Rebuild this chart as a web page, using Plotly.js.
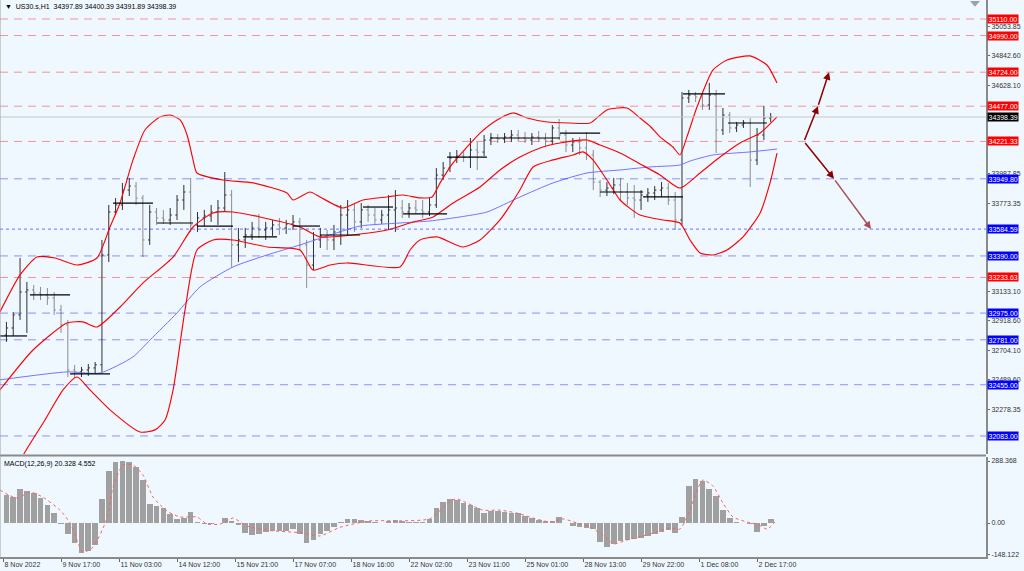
<!DOCTYPE html>
<html><head><meta charset="utf-8">
<script src="https://cdn.plot.ly/plotly-3.0.1.min.js"></script>
<style>html,body{margin:0;padding:0;background:#F0F8FF;}#chart{width:1024px;height:571px;}</style>
</head><body><div id="chart"></div>
<script>
// ---- 4-hour candles (US30.s), oldest first ----
const barOpen = [32816,32867,32962,33128,33143,33121,33107,33085,32998,32889,
 32562,32548,32562,32577,32599,33397,33709,33760,33868,33897,
 33810,33506,33709,33666,33651,33687,33796,33854,33615,33666,
 33680,33709,33738,33832,33470,33506,33542,33593,33578,33593,
 33615,33593,33622,33637,33470,33324,33506,33535,33506,33564,
 33687,33724,33637,33724,33687,33651,33687,33724,33738,33709,
 33738,33724,33709,33760,33977,34028,34101,34115,34108,34159,
 34144,34231,34246,34239,34253,34268,34246,34231,34253,34239,
 34224,34319,34268,34195,34217,34173,34123,33926,33868,33883,
 33905,33854,33810,33796,33832,33847,33868,33883,33796,33651,
 34537,34558,34544,34486,34558,34304,34413,34319,34340,34355,
 34086,34268,34391];
const barHigh = [32911,32983,33375,33201,33179,33165,33157,33128,33034,32925,
 32599,32584,32606,32620,33506,33760,33810,33919,33956,33926,
 33832,33760,33738,33724,33738,33832,33905,33956,33709,33724,
 33760,33796,33999,33868,33593,33593,33637,33695,33637,33651,
 33666,33651,33687,33666,33506,33564,33593,33578,33615,33760,
 33796,33774,33774,33760,33738,33724,33832,33868,33796,33774,
 33796,33796,33810,34028,34072,34144,34159,34144,34246,34217,
 34268,34282,34275,34282,34304,34304,34289,34282,34297,34282,
 34340,34384,34304,34246,34253,34289,34159,33941,33926,33956,
 33956,33919,33905,33868,33883,33897,33926,33919,33854,34580,
 34595,34580,34573,34646,34595,34464,34435,34362,34377,34391,
 34319,34479,34428];
const barLow = [32766,32809,32925,32831,33070,33070,33034,32962,32831,32511,
 32504,32511,32519,32533,32548,33346,33687,33724,33825,33760,
 33382,33470,33615,33622,33615,33651,33724,33564,33564,33607,
 33637,33615,33709,33310,33346,33448,33506,33520,33506,33535,
 33542,33549,33578,33433,33157,33288,33448,33433,33433,33470,
 33542,33564,33593,33637,33615,33622,33578,33564,33666,33666,
 33695,33666,33680,33738,33941,33999,34064,34072,34028,34014,
 34115,34195,34210,34210,34217,34224,34210,34195,34217,34188,
 34195,34231,34144,34144,34123,34086,33868,33818,33825,33839,
 33796,33760,33666,33724,33782,33796,33818,33760,33578,33615,
 34500,34507,34450,34450,34137,34268,34282,34289,34319,33890,
 34050,34231,34362];
const barClose = [32867,32962,33128,33143,33121,33107,33085,32998,32889,32562,
 32548,32562,32577,32599,33397,33709,33760,33868,33897,33810,
 33506,33709,33666,33651,33687,33796,33854,33615,33666,33680,
 33709,33738,33832,33470,33506,33542,33593,33578,33593,33615,
 33593,33622,33637,33470,33324,33506,33535,33506,33564,33687,
 33724,33637,33724,33687,33651,33687,33724,33738,33709,33738,
 33724,33709,33760,33977,34028,34101,34115,34108,34159,34144,
 34231,34246,34239,34253,34268,34246,34231,34253,34239,34224,
 34319,34268,34195,34217,34173,34123,33926,33868,33883,33905,
 33854,33810,33796,33832,33847,33868,33883,33796,33651,34537,
 34558,34544,34486,34558,34304,34413,34319,34340,34355,34086,
 34268,34391,34398.39];

// ---- Bollinger bands / moving average (hour index, price) ----
const upperH = [-1.8,10.0,19.9,30.5,43.4,55.1,62.7,68.6,76.2,83.2,92.0,97.9,103.8,107.9,111.4,113.7,129.0,146.6,166.5,170.0,180.0,185.8,199.3,211.0,225.1,234.5,244.5,251.5,256.2,263.8,272.0,279.6,289.6,299.0,307.2,318.9,332.4,344.1,354.0,365.8,373.4,379.2,385.1,392.7,396.8,400.9,406.8,416.2,424.4,437.9,447.8,453.7];
const upperP = [32983,33252,33382,33375,33324,33375,33600,33774,34087,34304,34399,34413,34377,34268,34087,33992,33941,33920,33847,33796,33854,33818,33738,33796,33818,33832,33811,33818,33920,34065,34181,34282,34377,34428,34391,34362,34355,34355,34450,34464,34391,34333,34254,34181,34123,34254,34471,34740,34812,34842,34776,34646];
const midH = [-1.8,17.6,37.5,46.9,55.1,68.6,82.1,99.7,111.4,123.1,134.8,150.6,174.1,185.8,209.3,225.1,240.4,252.1,263.8,279.6,291.3,303.0,314.8,326.5,342.3,350.0,361.7,373.4,385.1,396.8,408.6,420.3,432.0,443.8,453.7];
const midP = [32417,32707,32903,32911,32874,33019,33194,33382,33600,33702,33709,33673,33600,33528,33549,33578,33636,33673,33774,33891,34014,34108,34174,34210,34232,34195,34137,34058,33978,33883,33992,34108,34210,34282,34399];
const lowerH = [7.0,12.9,24.6,35.2,43.4,51.0,62.7,80.3,89.1,95.0,99.7,106.7,113.7,123.1,134.8,154.8,174.1,181.7,191.7,201.6,232.7,238.6,244.4,254.4,269.6,279.6,291.3,303.0,310.7,322.4,334.1,340.0,345.8,354.0,361.7,373.4,386.9,396.8,402.7,408.6,416.2,424.4,433.8,443.8,449.6,453.7];
const lowerP = [31836,31967,32199,32417,32511,32417,32272,32112,32127,32199,32417,32998,33433,33506,33506,33455,33433,33288,33324,33339,33310,33433,33506,33528,33455,33506,33651,33869,34036,34087,34123,34145,34087,33941,33796,33687,33651,33629,33506,33412,33397,33433,33528,33702,33920,34137];
const maH = [-1.8,37.5,56.9,76.2,86.2,102.0,115.5,134.8,154.8,174.1,191.7,209.3,232.7,250.3,267.9,283.7,303.0,322.4,342.3,361.7,379.2,396.8,402.7,416.2,437.9,453.7];
const maP = [32490,32548,32540,32657,32780,32976,33165,33310,33397,33470,33542,33607,33629,33644,33673,33709,33818,33920,33992,34014,34036,34050,34079,34123,34145,34166];

// ---- short black horizontal levels ----
const segStart = [-1.8,15.8,39.3,64.5,90.3,113.7,140.7,170.0,185.8,211.0,234.5,260.3,285.5,326.5,350.0,375.2,398.6,425.0];
const segEnd   = [14.1,39.3,62.7,87.9,111.4,134.8,160.6,185.8,209.3,228.6,260.3,283.7,326.5,350.0,375.2,398.6,423.2,447.8];
const segPrice = [32809,33107,32533,33774,33629,33607,33528,33607,33542,33745,33695,34108,34246,34282,33854,33818,34566,34355];

// ---- level lines ----
const redLevels  = [35110.00,34990.00,34724.00,34477.00,34221.33,33233.63];
const blueLevels = [33949.80,33390.00,32975.00,32781.00,32455.00,32083.00];
const dottedLevel = 33584.59;
const lastPrice = 34398.39;

// ---- projection arrows ----
const arrFromH = [469.5,477.7,469.5,487.1];
const arrFromP = [34221.33,34477.00,34221.33,33949.80];
const arrToH   = [477.7,484.2,487.1,508.8];
const arrToP   = [34477.00,34724.00,33949.80,33584.59];
const arrColor = ['#8b0000','#8b0000','#8b0000','#a85050'];

// ---- MACD(12,26,9) ----
const macdHist = [130,120,160,150,140,118,85,45,-5,-50,
 -95,-140,-130,-100,110,240,284,288,285,260,
 200,90,78,70,40,18,22,50,6,-3,
 -4,-2,25,8,-10,-45,-55,-50,-40,-35,
 -38,-35,-30,-50,-95,-80,-50,-35,-20,5,
 20,18,15,10,5,2,8,12,10,5,
 3,5,20,70,100,112,108,95,85,70,
 48,58,55,50,48,45,32,22,14,10,
 8,26,0,-14,-20,-25,-30,-90,-112,-98,
 -82,-77,-72,-68,-62,-52,-40,-32,-45,30,
 170,205,195,160,125,62,25,3,0,-5,
 -40,-15,20.328];
const sigH = [-1.8,8.2,15.8,23.4,33.4,39.3,46.9,52.8,61.0,64.5,70.3,76.2,82.1,87.9,96.1,103.8,113.7,119.6,127.2,134.8,143.0,156.5,174.1,185.8,197.5,215.1,232.7,250.3,262.0,266.1,281.4,291.3,301.3,310.7,320.6,328.3,336.5,344.1,354.0,357.6,365.8,379.2,391.0,396.8,402.7,406.8,410.3,416.2,422.0,427.9,436.1,442.0,447.9,452.5];
const sigV = [153,116,144,120,60,0,-135,-112,23,167,270,270,223,121,56,28,28,-5,-5,23,-14,-35,-45,-60,-20,10,10,20,102,112,60,60,46,23,5,19,0,-19,-70,-98,-79,-51,-23,-28,60,153,200,172,93,28,5,-5,-28,4.552];

// ---- axis ticks ----
const xTickHours = [0,34,68,102,136,170,204,238,272,306,340,374,408,442];
const xTickLabels = ['8 Nov 2022','9 Nov 17:00','11 Nov 03:00','14 Nov 12:00','15 Nov 21:00','17 Nov 07:00','18 Nov 16:00','22 Nov 02:00','23 Nov 11:00','25 Nov 01:00','28 Nov 13:00','29 Nov 22:00','1 Dec 08:00','2 Dec 17:00'];
const priceTicks = [35053.85,34842.60,34628.10,33987.85,33773.35,33133.10,32918.60,32704.10,32489.60,32278.35];
const macdTicks = [288.368,0,-148.122];
const macdTickText = ['288.368','0.00','-148.122'];

const FONT = '"Liberation Sans", Arial, sans-serif';
const barX = barClose.map((_, i) => 4 * i + 2);

const segX = [], segY = [];
segStart.forEach((s, i) => { segX.push(s, segEnd[i], null); segY.push(segPrice[i], segPrice[i], null); });

const traces = [
  {type:'ohlc', x:barX, open:barOpen, high:barHigh, low:barLow, close:barClose,
   increasing:{line:{color:'#303030', width:1}}, decreasing:{line:{color:'#8c8c8c', width:1}},
   tickwidth:0.25, hoverinfo:'skip', xaxis:'x', yaxis:'y'},
  {type:'scatter', mode:'lines', x:maH, y:maP, line:{color:'#7373ff', width:1, shape:'spline', smoothing:0.6}, hoverinfo:'skip'},
  {type:'scatter', mode:'lines', x:upperH, y:upperP, line:{color:'#ff0000', width:1.15, shape:'spline', smoothing:0.6}, hoverinfo:'skip'},
  {type:'scatter', mode:'lines', x:midH, y:midP, line:{color:'#ff0000', width:1.15, shape:'spline', smoothing:0.6}, hoverinfo:'skip'},
  {type:'scatter', mode:'lines', x:lowerH, y:lowerP, line:{color:'#ff0000', width:1.15, shape:'spline', smoothing:0.6}, hoverinfo:'skip'},
  {type:'scatter', mode:'lines', x:segX, y:segY, line:{color:'#000000', width:1.2}, connectgaps:false, hoverinfo:'skip'},
  {type:'bar', x:barX, y:macdHist, width:3.3, marker:{color:'#a0a0a0', line:{width:0}}, xaxis:'x', yaxis:'y2', hoverinfo:'skip'},
  {type:'scatter', mode:'lines', x:sigH, y:sigV, line:{color:'#ff6060', width:1, dash:'dot', shape:'spline', smoothing:0.6}, xaxis:'x', yaxis:'y2', hoverinfo:'skip'}
];

const shapes = [];
redLevels.forEach(p => shapes.push({type:'line', xref:'paper', x0:0, x1:1, yref:'y', y0:p, y1:p, line:{color:'rgba(255,0,0,0.42)', width:1, dash:'8px,6px'}}));
blueLevels.forEach(p => shapes.push({type:'line', xref:'paper', x0:0, x1:1, yref:'y', y0:p, y1:p, line:{color:'rgba(0,0,255,0.42)', width:1, dash:'8px,6px'}}));
shapes.push({type:'line', xref:'paper', x0:0, x1:1, yref:'y', y0:dottedLevel, y1:dottedLevel, line:{color:'rgba(0,0,255,0.55)', width:1, dash:'dot'}});
shapes.push({type:'line', xref:'paper', x0:0, x1:1, yref:'y', y0:lastPrice, y1:lastPrice, line:{color:'#c8c8c8', width:1}});
shapes.push({type:'line', xref:'paper', x0:0, x1:1, yref:'paper', y0:0.18223, y1:0.18223, line:{color:'#8a8a8a', width:2}});
shapes.push({type:'line', xref:'paper', x0:0, x1:0, yref:'paper', y0:0, y1:1, line:{color:'#a0a0a0', width:1}});
shapes.push({type:'path', xref:'paper', yref:'paper', path:'M 0.9838 0.998 L 0.9939 0.998 L 0.9888 0.988 Z', fillcolor:'#a0a0a0', line:{width:0}});

const annotations = [];
function lab(p, bg) {
  annotations.push({xref:'paper', x:1, xanchor:'left', xshift:1, yref:'y', y:p, yanchor:'middle',
    text:p.toFixed(2), showarrow:false, bgcolor:bg, borderpad:0.5,
    font:{family:FONT, size:7, color:'#ffffff'}});
}
redLevels.forEach(p => lab(p, '#ff0000'));
blueLevels.forEach(p => lab(p, '#0000ff'));
lab(dottedLevel, '#0000ff');
lab(lastPrice, '#000000');
arrToH.forEach((h, i) => annotations.push({xref:'x', yref:'y', axref:'x', ayref:'y', x:h, y:arrToP[i], ax:arrFromH[i], ay:arrFromP[i],
  showarrow:true, arrowhead:2, arrowsize:1, arrowwidth:1.5, arrowcolor:arrColor[i], text:'', standoff:0}));
annotations.push({xref:'paper', yref:'paper', x:0, y:1, xanchor:'left', yanchor:'top', xshift:3, yshift:-1, showarrow:false,
  text:'\u25BC  US30.s,H1  34397.89 34400.39 34391.89 34398.39', font:{family:FONT, size:7, color:'#000'}});
annotations.push({xref:'paper', yref:'paper', x:0, y:0.17953, xanchor:'left', yanchor:'top', xshift:2, yshift:-1, showarrow:false,
  text:'MACD(12,26,9) 20.328 4.552', font:{family:FONT, size:7, color:'#000'}});

const tf = {family:FONT, size:7, color:'#333'};
const layout = {
  width:1024, height:571,
  margin:{l:0, r:38, t:0, b:14, pad:0},
  paper_bgcolor:'#F0F8FF', plot_bgcolor:'#F0F8FF',
  showlegend:false, bargap:0,
  font:tf,
  xaxis:{anchor:'y2', range:[-1.76, 576.2], showgrid:false, zeroline:false, showline:true, linecolor:'#8a8a8a', linewidth:2,
    tickvals:xTickHours, ticktext:xTickLabels, ticks:'outside', ticklen:3, tickcolor:'#666',
    ticklabelposition:'outside right', tickfont:tf, rangeslider:{visible:false}},
  yaxis:{domain:[0.18492, 1], range:[31952, 35248], side:'right', showgrid:false, zeroline:false,
    showline:true, linecolor:'#8a8a8a', linewidth:2, tickvals:priceTicks, ticktext:priceTicks.map(v=>v.toFixed(2)),
    ticks:'outside', ticklen:2, tickcolor:'#666', tickfont:tf},
  yaxis2:{domain:[0, 0.17953], range:[-158, 307], side:'right', showgrid:false, zeroline:false,
    showline:true, linecolor:'#8a8a8a', linewidth:2, tickvals:macdTicks, ticktext:macdTickText,
    ticks:'outside', ticklen:2, tickcolor:'#666', tickfont:tf},
  shapes:shapes, annotations:annotations
};
Plotly.newPlot('chart', traces, layout, {staticPlot:true, displayModeBar:false});
</script></body></html>
